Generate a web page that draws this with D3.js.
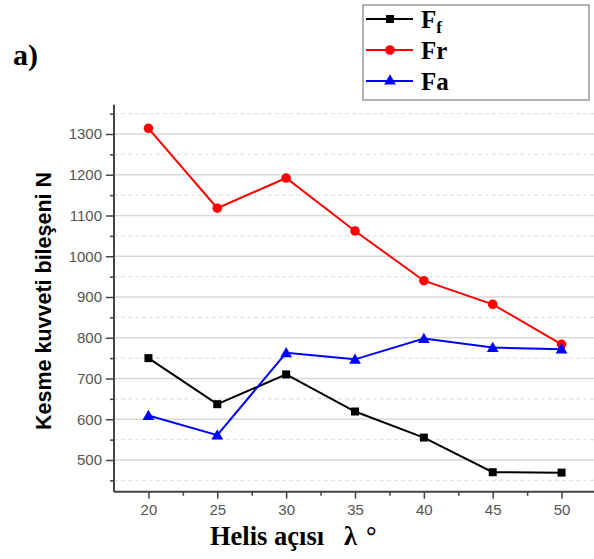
<!DOCTYPE html>
<html>
<head>
<meta charset="utf-8">
<script src="https://cdn.jsdelivr.net/npm/d3@7"></script>
<style>
  html, body { margin: 0; padding: 0; background: #fff; }
  svg { display: block; }
</style>
</head>
<body>
<svg id="chart" width="594" height="559"></svg>
<script>
// Helix angle (degrees) and cutting force components (N)
const angles = [20, 25, 30, 35, 40, 45, 50];
const Ff = [750, 637, 710, 619, 555, 470, 469];
const Fr = [1314, 1118, 1192, 1062, 940, 882, 784];
const Fa = [609, 561, 763, 747, 798, 776, 772];

const xTicks = [20, 25, 30, 35, 40, 45, 50];
const xMinor = [22.5, 27.5, 32.5, 37.5, 42.5, 47.5];
const yTicks = [500, 600, 700, 800, 900, 1000, 1100, 1200, 1300];
const yMinor = [450, 550, 650, 750, 850, 950, 1050, 1150, 1250, 1350];

const series = [
  { name: "Ff", values: Ff, color: "#000000", marker: "square" },
  { name: "Fr", values: Fr, color: "#ff0000", marker: "circle" },
  { name: "Fa", values: Fa, color: "#0000ff", marker: "triangle" }
];

const svg = d3.select("#chart");

const x = d3.scaleLinear().domain([17.5, 52.5]).range([114, 596]);
const y = d3.scaleLinear().domain([500, 1300]).range([460, 134]);
const yBottom = 422, yTop = 1372;

// Grid lines: solid at major ticks, dashed at minor ticks
const grid = svg.append("g");
grid.selectAll("line.major").data(yTicks).join("line")
  .attr("x1", x(17.5)).attr("x2", 594)
  .attr("y1", d => y(d)).attr("y2", d => y(d))
  .attr("stroke", "#d9d9d9").attr("stroke-width", 1.5);
grid.selectAll("line.minor").data(yMinor).join("line")
  .attr("x1", x(17.5)).attr("x2", 594)
  .attr("y1", d => y(d)).attr("y2", d => y(d))
  .attr("stroke", "#e2e2e2").attr("stroke-width", 1.2)
  .attr("stroke-dasharray", "4,3");

// Axes
const tickFont = "Liberation Sans, Arial, sans-serif";
const xAxis = svg.append("g").attr("transform", `translate(0,${y(yBottom)})`)
  .call(d3.axisBottom(x).tickValues(xTicks).tickSize(7).tickSizeOuter(0).tickPadding(6));
const xMinorAxis = svg.append("g").attr("transform", `translate(0,${y(yBottom)})`)
  .call(d3.axisBottom(x).tickValues(xMinor).tickSize(4).tickFormat("").tickSizeOuter(0));
xMinorAxis.select(".domain").remove();

const yAxis = svg.append("g").attr("transform", `translate(${x(17.5)},0)`)
  .call(d3.axisLeft(y).tickValues(yTicks).tickFormat(d3.format("d")).tickSize(8).tickSizeOuter(0).tickPadding(4));
const yMinorAxis = svg.append("g").attr("transform", `translate(${x(17.5)},0)`)
  .call(d3.axisLeft(y).tickValues(yMinor).tickSize(4).tickFormat("").tickSizeOuter(0));
yMinorAxis.select(".domain").remove();

// Explicit axis lines spanning the full ranges
xAxis.select(".domain").attr("d", `M${x(17.5)},0H${x(52.5)}`);
yAxis.select(".domain").attr("d", `M0,${y(yBottom)}V${y(yTop)}`);

[xAxis, xMinorAxis, yAxis, yMinorAxis].forEach(g => {
  g.selectAll(".domain").attr("stroke", "#444").attr("stroke-width", 2);
  g.selectAll(".tick line").attr("stroke", "#444").attr("stroke-width", 1.5);
  g.selectAll(".tick text").attr("fill", "#555")
    .style("font-family", tickFont).style("font-size", "15px");
});

// Lines and markers
const line = d3.line().x((d, i) => x(angles[i])).y(d => y(d));
const tri = d3.symbol().type(d3.symbolTriangle).size(60);
const sq = d3.symbol().type(d3.symbolSquare).size(64);
const circ = d3.symbol().type(d3.symbolCircle).size(72);
const markerPath = m => m === "square" ? sq() : m === "circle" ? circ() : tri();

series.forEach(s => {
  svg.append("path").datum(s.values)
    .attr("d", line).attr("fill", "none")
    .attr("stroke", s.color).attr("stroke-width", 2);
  svg.append("g").selectAll("path").data(s.values).join("path")
    .attr("transform", (d, i) => `translate(${x(angles[i])},${y(d) + (s.marker === "triangle" ? 1 : 0)})`)
    .attr("d", markerPath(s.marker))
    .attr("fill", s.color);
});

// Legend
const legend = svg.append("g");
legend.append("rect").attr("x", 363).attr("y", 5).attr("width", 226).attr("height", 95)
  .attr("fill", "#fff").attr("stroke", "#9a9a9a").attr("stroke-width", 1.5);
const rowsY = [19, 50, 81];
series.forEach((s, i) => {
  const g = legend.append("g").attr("transform", `translate(0,${rowsY[i]})`);
  g.append("line").attr("x1", 366).attr("x2", 413).attr("y1", 0).attr("y2", 0)
    .attr("stroke", s.color).attr("stroke-width", 2);
  g.append("path").attr("transform", "translate(390,0)").attr("d", markerPath(s.marker)).attr("fill", s.color);
});
const serif = "Liberation Serif, Times New Roman, serif";
const lt = legend.append("text").attr("x", 421).attr("y", rowsY[0] + 9)
  .style("font-family", serif).style("font-weight", "bold").style("font-size", "25px");
lt.append("tspan").text("F");
lt.append("tspan").attr("dy", 5).style("font-size", "17px").text("f");
legend.append("text").attr("x", 421).attr("y", rowsY[1] + 9)
  .style("font-family", serif).style("font-weight", "bold").style("font-size", "25px").text("Fr");
legend.append("text").attr("x", 421).attr("y", rowsY[2] + 9)
  .style("font-family", serif).style("font-weight", "bold").style("font-size", "25px").text("Fa");

// Panel label
svg.append("text").attr("x", 13).attr("y", 65)
  .style("font-family", serif).style("font-weight", "bold").style("font-size", "30px").text("a)");

// Axis titles
const xt = svg.append("text").attr("y", 545)
  .style("font-family", serif).style("font-weight", "bold").style("font-size", "26.5px");
xt.append("tspan").attr("x", 210).text("Helis açısı");
xt.append("tspan").attr("x", 344).text("λ");
xt.append("tspan").attr("x", 366).text("°");
svg.append("text")
  .attr("transform", "translate(51,301) rotate(-90)")
  .attr("text-anchor", "middle")
  .style("font-family", "Liberation Sans, Arial, sans-serif").style("font-weight", "bold").style("font-size", "21.5px")
  .text("Kesme kuvveti bileşeni N");
</script>
</body>
</html>
